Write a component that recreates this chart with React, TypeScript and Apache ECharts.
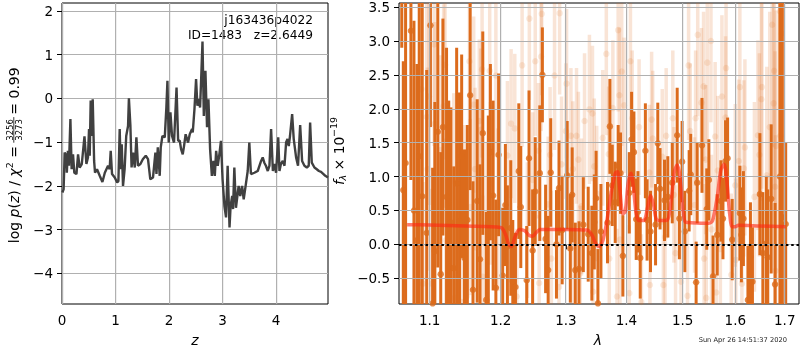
import React, { useEffect, useRef } from 'react';
import * as echarts from 'echarts';

// log p(z) curve: [z, log p(z)]
const pzCurve: [number, number][] = [
  [0.007, -2.15], [0.03, -2.08], [0.05, -1.24], [0.08, -1.31], [0.09, -1.70], [0.11, -1.20], [0.13, -1.54], [0.157, -0.47], [0.18, -1.62], [0.206, -1.28],
  [0.23, -1.70], [0.27, -1.73], [0.30, -1.28], [0.33, -1.58], [0.37, -1.50], [0.42, -0.87], [0.456, -1.50], [0.485, -1.35], [0.505, -0.70], [0.518, -1.31],
  [0.536, -0.05], [0.555, -0.86], [0.574, -0.02], [0.60, -1.43], [0.617, -1.70], [0.654, -1.62], [0.705, -1.77], [0.755, -1.91], [0.80, -1.70], [0.86, -1.54],
  [0.89, -1.62], [0.91, -1.20], [0.935, -1.73], [0.985, -1.81], [1.03, -1.92], [1.054, -1.89], [1.078, -0.70], [1.097, -1.62], [1.116, -1.05], [1.14, -2.0],
  [1.17, -1.62], [1.20, -0.86], [1.234, -0.63], [1.25, 0.0], [1.278, -0.63], [1.30, -1.58], [1.327, -1.24], [1.36, -1.58], [1.39, -0.89], [1.42, -1.54],
  [1.465, -1.50], [1.51, -1.39], [1.565, -1.31], [1.607, -1.39], [1.65, -1.85], [1.70, -1.81], [1.745, -1.24], [1.765, -1.73], [1.79, -1.12], [1.826, -1.77],
  [1.845, -1.12], [1.876, -0.86], [1.92, -0.89], [1.95, -0.21], [1.97, 0.40], [1.994, -1.01], [2.026, -0.32], [2.056, -0.86], [2.093, -1.01], [2.14, 0.25],
  [2.17, -0.97], [2.20, -0.97], [2.225, -1.16], [2.256, -1.28], [2.28, -1.09], [2.31, -0.82], [2.355, -1.01], [2.387, -0.82], [2.43, -0.70], [2.443, -0.78],
  [2.475, -0.245], [2.505, 0.44], [2.53, -0.17], [2.555, -0.02], [2.58, -0.21], [2.60, 0.44], [2.625, 1.30], [2.65, -0.40], [2.68, 0.63], [2.71, -0.66],
  [2.736, -0.02], [2.767, -1.16], [2.80, -1.77], [2.83, -1.43], [2.855, -1.77], [2.88, -1.20], [2.91, -1.54], [2.94, -1.28], [2.97, -0.97], [3.0, -1.85],
  [3.035, -2.46], [3.065, -2.72], [3.095, -1.54], [3.13, -2.95], [3.15, -2.46], [3.18, -2.23], [3.196, -2.53], [3.22, -1.58], [3.25, -2.50], [3.30, -2.0],
  [3.33, -2.23], [3.365, -2.0], [3.395, -2.31], [3.44, -1.92], [3.47, -1.66], [3.50, -1.01], [3.53, -1.73], [3.595, -1.70], [3.657, -1.66], [3.72, -1.43],
  [3.75, -1.35], [3.78, -1.47], [3.81, -1.54], [3.845, -1.66], [3.876, -1.54], [3.907, -0.70], [3.94, -1.66], [3.97, -1.50], [4.0, -1.70], [4.04, -0.89],
  [4.063, -1.66], [4.09, -1.50], [4.125, -1.43], [4.157, -1.54], [4.187, -1.01], [4.213, -0.93], [4.237, -1.09], [4.26, -0.86], [4.30, -0.36], [4.33, -0.93],
  [4.374, -1.35], [4.41, -1.54], [4.45, -0.61], [4.486, -1.43], [4.53, -1.54], [4.574, -1.58], [4.61, -1.54], [4.636, -0.55], [4.667, -1.47], [4.717, -1.58],
  [4.76, -1.62], [4.80, -1.66], [4.84, -1.68], [4.886, -1.73], [4.92, -1.77], [4.97, -1.81],
];

// main spectrum points: [lambda (um), flux, error]
const specMain: [number, number, number][] = [
  [1.063, 4.0, 1.1], [1.065, 0.8, 1.9], [1.068, 1.2, 2.5], [1.075, 3.15, 2.2], [1.079, 0.5, 2.8], [1.083, 0.06, 2.6], [1.086, 1.30, 2.5], [1.090, 0.71, 2.9],
  [1.096, 0.17, 2.4], [1.101, 3.23, 1.5], [1.104, -0.87, 2.0], [1.107, -0.10, 2.2], [1.111, 1.66, 2.0], [1.115, -0.44, 1.8], [1.118, 1.73, 1.6],
  [1.123, 0.70, 2.2], [1.126, 0.62, 1.5], [1.129, 0.32, 1.7], [1.133, -0.35, 1.5], [1.137, 0.9, 2.0], [1.141, 0.34, 1.9], [1.144, 1.30, 1.5],
  [1.148, -0.2, 1.6], [1.152, 0.36, 1.4], [1.156, 2.20, 1.4], [1.160, -0.67, 1.6], [1.166, 0.64, 1.5], [1.170, -0.22, 1.4], [1.174, 1.64, 1.5],
  [1.179, -0.82, 1.3], [1.182, 0.3, 1.6], [1.185, 1.36, 1.3], [1.189, 0.72, 1.4], [1.193, -0.64, 1.3], [1.197, 1.32, 1.2],
  [1.203, -0.46, 1.0], [1.207, 0.58, 0.9], [1.210, -0.03, 0.9], [1.215, 0.24, 1.0], [1.218, -0.54, 0.9], [1.222, -0.63, 0.8], [1.227, 1.08, 1.0],
  [1.230, 0.55, 0.9], [1.239, -0.53, 0.8], [1.2425, 1.27, 1.0], [1.248, -0.09, 0.9], [1.252, 0.78, 0.8], [1.259, 1.05, 1.0], [1.263, 2.50, 0.7],
  [1.268, 0.08, 0.8], [1.272, -0.38, 0.8], [1.276, 1.06, 0.8], [1.285, 0.00, 0.8], [1.289, 0.83, 0.7], [1.294, 0.21, 0.8], [1.302, 1.02, 0.8],
  [1.307, -0.06, 0.8], [1.310, 0.73, 0.7], [1.315, -0.38, 0.7], [1.321, -0.36, 0.7], [1.328, 0.29, 0.7], [1.336, 0.15, 0.7], [1.342, -0.13, 0.7],
  [1.346, 0.33, 0.7], [1.349, 0.68, 0.7], [1.352, -0.87, 0.8],
  [1.357, 0.19, 0.7], [1.368, 0.32, 0.6], [1.372, 1.74, 0.7], [1.376, 0.87, 0.6], [1.381, 0.62, 0.6], [1.386, 1.16, 0.6], [1.390, 1.05, 0.6],
  [1.394, -0.17, 0.6], [1.405, 0.76, 0.6], [1.409, 1.55, 0.7], [1.413, 1.36, 0.6], [1.417, 0.37, 0.6], [1.420, 0.48, 0.6], [1.424, -0.20, 0.6],
  [1.433, 1.38, 0.7], [1.436, 0.36, 0.6], [1.442, 0.19, 0.6], [1.451, 0.29, 0.6], [1.455, 1.49, 0.6], [1.459, 0.82, 0.6], [1.467, 0.65, 0.6],
  [1.473, 0.70, 0.6], [1.481, 0.91, 0.6], [1.490, 1.61, 0.7], [1.494, 0.38, 0.6], [1.499, 1.22, 0.6], [1.504, 0.19, 0.6], [1.512, 0.79, 0.6],
  [1.515, 1.03, 0.6], [1.525, -0.56, 0.6], [1.527, 0.91, 0.6], [1.536, 1.46, 0.7], [1.545, 0.52, 0.6], [1.549, 0.95, 0.6], [1.557, -0.47, 0.6],
  [1.565, 0.14, 0.6], [1.572, 0.64, 0.6], [1.576, 0.38, 0.6], [1.581, 1.23, 0.6], [1.585, 1.27, 0.6], [1.594, 0.07, 0.6],
  [1.609, 0.46, 0.7], [1.612, 0.14, 0.7], [1.616, 0.38, 0.7], [1.625, -0.82, 0.8], [1.630, -0.18, 0.8], [1.634, -0.55, 0.8], [1.649, 0.74, 0.9],
  [1.655, -0.13, 0.9], [1.662, 0.01, 1.0], [1.665, -0.19, 1.0], [1.672, 0.67, 1.1], [1.680, -0.59, 1.2], [1.690, 1.0, 2.6], [1.695, 0.4, 3.2],
  [1.702, 0.3, 1.2],
];

// other exposures (faint): [lambda, flux, error]
const specOther: [number, number, number][] = [
  [1.089, 2.29, 1.6], [1.091, -0.58, 1.5], [1.096, 1.88, 1.7], [1.097, 1.11, 1.5], [1.099, 2.18, 1.6], [1.103, -0.58, 1.4], [1.106, 2.95, 1.5],
  [1.107, 1.78, 1.5], [1.115, 1.39, 1.4], [1.119, 2.04, 1.5], [1.121, 2.65, 1.4], [1.122, 0.06, 1.5], [1.133, 0.93, 1.3], [1.134, -0.79, 1.3],
  [1.144, -0.85, 1.3], [1.148, 0.46, 1.3], [1.151, -0.77, 1.3], [1.155, 2.70, 1.3], [1.156, 0.55, 1.3], [1.161, 2.06, 1.3], [1.163, 1.11, 1.2],
  [1.169, 1.82, 1.2], [1.171, 1.69, 1.2], [1.173, 2.58, 1.3], [1.174, -0.48, 1.2], [1.180, 0.31, 1.2], [1.184, 2.56, 1.3], [1.185, 0.90, 1.2],
  [1.193, 2.49, 1.2], [1.196, 0.51, 1.2],
  [1.210, 1.31, 1.1], [1.2155, 1.78, 1.1], [1.221, 1.71, 1.1], [1.224, -0.77, 1.0], [1.232, 2.64, 1.2], [1.240, 0.21, 1.0], [1.243, 3.33, 1.2],
  [1.248, 0.95, 1.0], [1.252, 2.70, 1.1], [1.257, 1.38, 1.0], [1.258, -0.57, 1.0], [1.261, 2.77, 1.1], [1.262, 3.40, 1.2], [1.272, 0.59, 1.0],
  [1.275, 1.32, 1.0], [1.277, -0.21, 1.0], [1.282, 2.49, 1.1], [1.289, -0.63, 1.0], [1.290, 3.41, 1.2], [1.293, 1.18, 1.0], [1.300, 1.67, 1.0],
  [1.301, 2.37, 1.1], [1.308, 1.60, 1.0], [1.310, 0.06, 1.0], [1.311, 1.11, 1.0], [1.317, 1.60, 1.0], [1.320, 1.25, 1.0], [1.323, -0.43, 1.0],
  [1.325, 0.56, 1.0], [1.330, 1.82, 1.0], [1.338, 1.99, 1.1], [1.343, 1.93, 1.0], [1.344, -0.70, 1.0], [1.346, 1.15, 1.0], [1.350, 0.75, 1.0],
  [1.360, 1.57, 1.0], [1.366, 2.81, 1.2], [1.370, 1.33, 1.0], [1.371, -0.21, 1.0], [1.377, 2.01, 1.0], [1.384, -0.77, 1.0], [1.386, 3.16, 1.2],
  [1.388, 2.20, 1.0], [1.389, 0.07, 1.0], [1.392, 2.55, 1.1], [1.396, 2.05, 1.0], [1.405, -0.72, 1.0], [1.407, 2.70, 1.1], [1.410, 1.86, 1.0],
  [1.422, 1.73, 1.0], [1.426, -0.85, 1.0], [1.440, 1.06, 1.0], [1.441, -0.60, 1.0], [1.444, 1.84, 1.0], [1.446, 1.56, 1.0], [1.463, 1.29, 1.0],
  [1.465, -0.60, 1.0], [1.468, 0.11, 1.0], [1.470, 1.60, 1.0], [1.482, 1.86, 1.0], [1.484, 0.73, 1.0], [1.487, -0.13, 1.0], [1.497, -0.55, 1.0],
  [1.509, -0.76, 1.0], [1.511, 2.64, 1.1], [1.514, 1.67, 1.0], [1.522, 0.58, 1.0], [1.524, 1.86, 1.0], [1.528, 3.09, 1.2], [1.535, 2.09, 1.1],
  [1.539, 2.33, 1.1], [1.540, -0.21, 1.1], [1.543, 1.25, 1.1], [1.544, -0.79, 1.1], [1.546, 2.68, 1.2], [1.553, 3.00, 1.2], [1.554, 0.22, 1.1],
  [1.561, 1.59, 1.1], [1.563, -0.71, 1.1], [1.566, 1.09, 1.1], [1.571, -0.07, 1.1], [1.574, 2.18, 1.2], [1.581, 1.87, 1.2], [1.582, 2.60, 1.2],
  [1.592, -0.45, 1.2],
  [1.600, 0.87, 1.2], [1.601, -0.23, 1.2], [1.607, 1.23, 1.2], [1.609, 2.32, 1.3], [1.613, -0.58, 1.3], [1.617, 1.12, 1.3], [1.619, 1.43, 1.3],
  [1.638, 0.70, 1.4], [1.645, 1.61, 1.4], [1.648, 1.32, 1.5], [1.652, 2.14, 1.5], [1.653, 2.32, 1.5], [1.663, 1.02, 1.6], [1.669, 1.73, 1.7],
  [1.674, 3.24, 1.8], [1.677, 2.08, 1.8], [1.678, 2.56, 1.9], [1.680, 0.85, 2.0], [1.681, -0.39, 2.0], [1.682, 1.45, 2.0], [1.690, 3.44, 2.2],
  [1.691, 1.60, 2.2], [1.694, 3.11, 2.3],
];

// best-fit model: [lambda, flux]
const modelCurve: [number, number][] = [
  [1.070, 0.29], [1.100, 0.285], [1.150, 0.27], [1.200, 0.25], [1.207, 0.15], [1.212, 0.0], [1.216, -0.03], [1.221, 0.10], [1.228, 0.22],
  [1.236, 0.20], [1.243, 0.13], [1.248, 0.12], [1.254, 0.18], [1.260, 0.22], [1.300, 0.22], [1.334, 0.21], [1.342, 0.14], [1.348, 0.02],
  [1.354, -0.03], [1.360, 0.05], [1.366, 0.30], [1.374, 0.75], [1.381, 1.05], [1.385, 1.07], [1.389, 0.80], [1.394, 0.45], [1.398, 0.48],
  [1.403, 0.90], [1.408, 1.05], [1.412, 0.85], [1.417, 0.45], [1.422, 0.35], [1.430, 0.35], [1.437, 0.55], [1.442, 0.72], [1.447, 0.60],
  [1.452, 0.38], [1.458, 0.35], [1.472, 0.36], [1.479, 0.65], [1.485, 1.08], [1.490, 1.17], [1.495, 1.00], [1.500, 0.55], [1.505, 0.33],
  [1.515, 0.32], [1.548, 0.31], [1.556, 0.35], [1.565, 0.70], [1.572, 1.10], [1.578, 1.18], [1.584, 0.90], [1.589, 0.45], [1.594, 0.26],
  [1.600, 0.26], [1.606, 0.28], [1.650, 0.27], [1.702, 0.26],
];

const zTicks = [0, 1, 2, 3, 4];
const pzTicks = [-4, -3, -2, -1, 0, 1, 2];
const lamTicks = [1.1, 1.2, 1.3, 1.4, 1.5, 1.6, 1.7];
const fluxTicks = [-0.5, 0, 0.5, 1, 1.5, 2, 2.5, 3, 3.5];

const FONT = 'DejaVu Sans';
const MAIN = '#dc6b1c';
const FAINT = 'rgba(220,107,28,0.18)';
const GRID = '#b0b0b0';
const minus = (s: string) => s.replace('-', '\u2212');

function errRender(width: number, color: string) {
  return (params: any, api: any) => {
    const x = api.value(0);
    const y = api.value(1);
    const e = api.value(2);
    const top = api.coord([x, y + e]);
    const bot = api.coord([x, y - e]);
    return {
      type: 'rect',
      shape: { x: top[0] - width / 2, y: top[1], width, height: bot[1] - top[1] },
      style: { fill: color },
    };
  };
}

// vertical grid line: data item [xValue, yFrom, yTo]
function vGridRender(params: any, api: any) {
  const x = api.value(0);
  const bot = api.coord([x, api.value(1)]);
  const top = api.coord([x, api.value(2)]);
  return {
    type: 'rect',
    shape: { x: Math.floor(top[0]), y: top[1], width: 1.2, height: bot[1] - top[1] },
    style: { fill: GRID },
  };
}

function hGridLines(ys: number[], z: number) {
  return {
    silent: true, symbol: 'none', z, label: { show: false },
    lineStyle: { color: GRID, type: 'solid', width: 1 },
    emphasis: { disabled: true },
    data: ys.map((v) => ({ yAxis: v })),
  };
}

export default function App() {
  const ref = useRef<HTMLDivElement>(null);
  useEffect(() => {
    const chart = echarts.init(ref.current!, null, { renderer: 'svg' });
    const axisCommon = {
      axisLine: { show: false },
      splitLine: { show: false },
    };
    const tick = { show: true, length: 5, lineStyle: { color: '#000', width: 1 } };
    const labelStyle = { color: '#000', fontFamily: FONT, fontSize: 13.5, margin: 9 };
    const lamTickVals = lamTicks.map(Math.log);
    const option: any = {
      animation: false,
      grid: [
        { left: 62, top: 3, width: 266, height: 301, show: true, borderColor: '#000', borderWidth: 1 },
        { left: 399, top: 3, width: 400, height: 301, show: true, borderColor: '#000', borderWidth: 1 },
      ],
      xAxis: [
        {
          type: 'value', gridIndex: 0, min: 0, max: 4.97, ...axisCommon,
          axisTick: { ...tick, customValues: zTicks },
          axisLabel: { ...labelStyle, customValues: zTicks, formatter: (v: number) => String(v) },
        },
        {
          type: 'value', gridIndex: 1, min: Math.log(1.0594), max: Math.log(1.73), ...axisCommon,
          axisTick: { ...tick, customValues: lamTickVals },
          axisLabel: { ...labelStyle, customValues: lamTickVals, formatter: (v: number) => Math.exp(v).toFixed(1) },
        },
      ],
      yAxis: [
        {
          type: 'value', gridIndex: 0, min: -4.7, max: 2.18, ...axisCommon,
          axisTick: { ...tick, customValues: pzTicks },
          axisLabel: { ...labelStyle, customValues: pzTicks, formatter: (v: number) => minus(String(v)) },
        },
        {
          type: 'value', gridIndex: 1, min: -0.88, max: 3.56, ...axisCommon,
          axisTick: { ...tick, customValues: fluxTicks },
          axisLabel: { ...labelStyle, customValues: fluxTicks, formatter: (v: number) => minus(v.toFixed(1)) },
        },
      ],
      series: [
        {
          type: 'custom', xAxisIndex: 0, yAxisIndex: 0, z: 2, silent: true, clip: false,
          data: zTicks.map((v) => [v, -4.7, 2.18]), renderItem: vGridRender, encode: { x: 0, y: 1 },
        },
        {
          type: 'line', xAxisIndex: 0, yAxisIndex: 0, data: pzCurve, showSymbol: false,
          lineStyle: { color: '#404040', width: 2.4 }, z: 5,
          markLine: hGridLines(pzTicks, 1),
        },
        {
          type: 'custom', xAxisIndex: 1, yAxisIndex: 1, clip: true, z: 1,
          data: specOther.map((d) => [Math.log(d[0]), d[1], d[2]]),
          renderItem: errRender(3.5, FAINT), encode: { x: 0, y: 1 },
        },
        {
          type: 'scatter', xAxisIndex: 1, yAxisIndex: 1, clip: true, z: 2,
          data: specOther.map((d) => [Math.log(d[0]), d[1]]),
          symbolSize: 6.5, itemStyle: { color: FAINT },
        },
        {
          type: 'custom', xAxisIndex: 1, yAxisIndex: 1, clip: true, z: 3,
          data: specMain.map((d) => [Math.log(d[0]), d[1], d[2]]),
          renderItem: errRender(3, MAIN), encode: { x: 0, y: 1 },
        },
        {
          type: 'scatter', xAxisIndex: 1, yAxisIndex: 1, clip: true, z: 4,
          data: specMain.map((d) => [Math.log(d[0]), d[1]]),
          symbolSize: 6.5, itemStyle: { color: MAIN },
          markLine: hGridLines(fluxTicks, 4.5),
        },
        {
          type: 'custom', xAxisIndex: 1, yAxisIndex: 1, z: 4.5, silent: true, clip: false,
          data: lamTickVals.map((v) => [v, -0.88, 3.56]), renderItem: vGridRender, encode: { x: 0, y: 1 },
        },
        {
          type: 'line', xAxisIndex: 1, yAxisIndex: 1, z: 6,
          data: modelCurve.map((d) => [Math.log(d[0]), d[1]]),
          showSymbol: false, smooth: 0.3,
          lineStyle: { color: 'rgba(255,40,20,0.62)', width: 3.5 },
          markLine: {
            silent: true, symbol: 'none', label: { show: false }, z: 8,
            lineStyle: { color: '#000', type: [2.5, 2.8], width: 2 },
            data: [{ yAxis: 0 }],
          },
        },
      ],
      graphic: [
        {
          type: 'text', right: 800 - 313, top: 14,
          style: { text: 'j163436p4022', fontFamily: FONT, fontSize: 12.2, fill: '#000', align: 'right' },
        },
        {
          type: 'text', right: 800 - 313, top: 29,
          style: { text: 'ID=1483   z=2.6449', fontFamily: FONT, fontSize: 12.2, fill: '#000', align: 'right' },
        },
        {
          type: 'text', x: 195, y: 340,
          style: { text: 'z', fontFamily: FONT, fontSize: 14, fontStyle: 'italic', fill: '#000', align: 'center', verticalAlign: 'middle' },
        },
        {
          type: 'text', x: 598, y: 340,
          style: { text: 'λ', fontFamily: FONT, fontSize: 14, fontStyle: 'italic', fill: '#000', align: 'center', verticalAlign: 'middle' },
        },
        {
          type: 'text', x: 787, y: 340,
          style: { text: 'Sun Apr 26 14:51:37 2020', fontFamily: FONT, fontSize: 6.7, fill: '#222', align: 'right', verticalAlign: 'middle' },
        },
        {
          type: 'group', x: 13.5, y: 155.7, rotation: Math.PI / 2,
          children: [
            {
              type: 'text', x: -87.5, y: 0,
              style: {
                text: '{n|log }{i|p}{n|(}{i|z}{n|) / }{i|χ}{s|2}{n| =}',
                align: 'left', verticalAlign: 'middle', fill: '#000',
                rich: {
                  n: { fontFamily: FONT, fontSize: 14, lineHeight: 18 },
                  i: { fontFamily: FONT, fontSize: 14, fontStyle: 'italic', lineHeight: 18 },
                  s: { fontFamily: FONT, fontSize: 9.5, lineHeight: 10, verticalAlign: 'top' },
                },
              },
            },
            {
              type: 'text', x: 25.8, y: -4,
              style: { text: '3256', fontFamily: FONT, fontSize: 8.5, fill: '#000', align: 'center', verticalAlign: 'middle' },
            },
            {
              type: 'line', shape: { x1: 13, y1: 0.3, x2: 38.6, y2: 0.3 }, style: { stroke: '#000', lineWidth: 0.8 },
            },
            {
              type: 'text', x: 25.8, y: 5,
              style: { text: '3273', fontFamily: FONT, fontSize: 8.5, fill: '#000', align: 'center', verticalAlign: 'middle' },
            },
            {
              type: 'text', x: 41, y: 0,
              style: { text: '= 0.99', fontFamily: FONT, fontSize: 14, fill: '#000', align: 'left', verticalAlign: 'middle' },
            },
          ],
        },
        {
          type: 'group', x: 338.5, y: 153.5, rotation: Math.PI / 2,
          children: [
            {
              type: 'text', x: -31.5, y: 0,
              style: { text: 'f', fontFamily: FONT, fontSize: 14, fontStyle: 'italic', fill: '#000', align: 'left', verticalAlign: 'middle' },
            },
            {
              type: 'text', x: -27, y: 4,
              style: { text: 'λ', fontFamily: FONT, fontSize: 9.5, fontStyle: 'italic', fill: '#000', align: 'left', verticalAlign: 'middle' },
            },
            {
              type: 'text', x: -17, y: 0,
              style: { text: '× 10', fontFamily: FONT, fontSize: 14, fill: '#000', align: 'left', verticalAlign: 'middle' },
            },
            {
              type: 'text', x: 16.5, y: -5,
              style: { text: '\u221219', fontFamily: FONT, fontSize: 9.5, fill: '#000', align: 'left', verticalAlign: 'middle' },
            },
          ],
        },
      ],
    };
    chart.setOption(option);
    return () => chart.dispose();
  }, []);
  return <div ref={ref} style={{ position: 'fixed', left: 0, top: 0, width: 800, height: 350 }} />;
}
